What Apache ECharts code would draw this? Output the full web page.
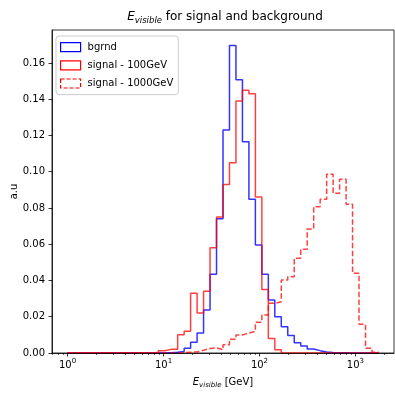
<!DOCTYPE html>
<html><head><meta charset="utf-8">
<script src="https://cdn.jsdelivr.net/npm/echarts@6/dist/echarts.min.js"></script>
<style>html,body{margin:0;padding:0;background:#fff}#c{width:395px;height:393px}</style>
</head><body><div id="c"></div>
<script>
// Logarithmic bin edges (GeV), 48 bins
const binEdges = [1.000,1.168,1.365,1.594,1.862,2.175,2.541,2.968,3.467,4.050,4.732,5.528,6.457,7.543,8.810,
  10.29,12.02,14.04,16.41,19.16,22.39,26.15,30.55,35.69,41.69,48.70,56.89,66.45,77.62,90.68,
  105.9,123.7,144.5,168.8,197.2,230.4,269.2,314.4,367.3,429.1,501.2,585.5,684.0,799.0,933.3,
  1090,1274,1488,1738];
const bgrnd = [0,0,0,0,0,0,0,0,0,0,0,0,0,0,0,
  0.0002,0.0004,0.0008,0.0026,0.0059,0.011,0.0237,0.0434,0.074,0.123,0.1696,0.1507,0.1166,0.0848,
  0.0596,0.0434,0.0292,0.020,0.0145,0.0096,0.0057,0.0039,0.0022,0.0013,0.0006,0.0003,0.0002,0.0001,
  0,0,0,0,0];
const signal100 = [0,0,0,0,0,0,0,0,0,0,0,0,0,0,
  0.0012,0.002,0.002,0.010,0.012,0.033,0.022,0.034,0.058,0.075,0.093,0.105,0.139,0.145,0.143,0.086,0.035,0.008,0.0018,
  0,0,0,0,0,0,0,0,0,0,0,0,0,0,0];
const signal1000 = [0,0,0,0,0,0,0,0,0,0,0,0,0,0,0,0,0,
  0.0002,0.0004,0.0006,0.0015,0.0025,0.0028,0.0018,0.0045,0.0076,0.0099,0.011,0.012,0.017,0.021,0.0274,0.0283,
  0.0403,0.0421,0.0523,0.0572,0.0684,0.0807,0.0848,0.0986,0.0881,0.0958,0.082,0.044,0.0158,0.0026,0.0004];
const seriesNames = ['bgrnd', 'signal - 100GeV', 'signal - 1000GeV'];
const xMajorTicks = [1, 10, 100, 1000];
const xMajorLabels = ['0', '1', '2', '3'];
const xMinorTicks = [0.7,0.8,0.9,2,3,4,5,6,7,8,9,20,30,40,50,60,70,80,90,200,300,400,500,600,700,800,900,2000];
const yTicks = [0,0.02,0.04,0.06,0.08,0.10,0.12,0.14,0.16];

function stepPoints(edges, vals) {
  const pts = [[edges[0], 0]];
  for (let i = 0; i < vals.length; i++) pts.push([edges[i], vals[i]]);
  pts.push([edges[vals.length], 0]);
  return pts;
}

const FONT = 'DejaVu Sans';
const chart = echarts.init(document.getElementById('c'), null, {renderer: 'canvas'});
const xBase = {
  type: 'log', logBase: 10, min: 0.6887, max: 2523,
  splitLine: {show: false}, minorTick: {show: false}
};
chart.setOption({
  animation: false,
  backgroundColor: '#fff',
  textStyle: {fontFamily: FONT},
  title: {
    text: '{e|E}{s|visible}{t| for signal and background}',
    left: 225, top: 9, padding: 0, textAlign: 'center',
    textStyle: {
      fontWeight: 'normal',
      rich: {
        e: {fontFamily: FONT, fontSize: 12, fontStyle: 'italic', fontWeight: 'normal', color: '#000', lineHeight: 16},
        s: {fontFamily: FONT, fontSize: 8.5, fontStyle: 'italic', fontWeight: 'normal', color: '#000', verticalAlign: 'bottom', lineHeight: 9},
        t: {fontFamily: FONT, fontSize: 12, fontWeight: 'normal', color: '#000', lineHeight: 16}
      }
    }
  },
  legend: {
    orient: 'vertical', left: 56, top: 36,
    padding: [6, 5, 6, 4],
    itemWidth: 20, itemHeight: 9, itemGap: 8,
    backgroundColor: '#fff', borderColor: '#cccccc', borderWidth: 1, borderRadius: 3,
    textStyle: {fontFamily: FONT, fontSize: 10, color: '#000', lineHeight: 10, padding: [0, 0, 0, 2]},
    data: [
      {name: seriesNames[0], icon: 'rect', itemStyle: {color: 'rgba(0,0,0,0)', borderColor: '#0000ff', borderWidth: 1.2}},
      {name: seriesNames[1], icon: 'rect', itemStyle: {color: 'rgba(0,0,0,0)', borderColor: '#ff0000', borderWidth: 1.2}},
      {name: seriesNames[2], icon: 'rect', itemStyle: {color: 'rgba(0,0,0,0)', borderColor: '#ff0000', borderWidth: 1.2, borderType: [4, 2]}}
    ]
  },
  grid: {left: 52, right: 1, top: 30, bottom: 40, containLabel: false, outerBoundsMode: 'none',
    show: true, borderColor: '#000', borderWidth: 0.8, backgroundColor: 'rgba(0,0,0,0)'},
  xAxis: [
    Object.assign({}, xBase, {
      position: 'bottom', z: 10,
      axisLine: {show: true, lineStyle: {color: '#000', width: 0.8}},
      axisTick: {show: true, length: 3.5, lineStyle: {color: '#000', width: 0.8}, customValues: xMajorTicks},
      axisLabel: {
        customValues: xMajorTicks, margin: 5, color: '#000',
        formatter: function (v) {
          const i = xMajorTicks.indexOf(Math.round(v));
          return '{b|10}{p|' + (i >= 0 ? xMajorLabels[i] : '') + '}';
        },
        rich: {
          b: {fontFamily: FONT, fontSize: 10, color: '#000', lineHeight: 14},
          p: {fontFamily: FONT, fontSize: 7, color: '#000', verticalAlign: 'top', lineHeight: 8}
        }
      },
      name: '{e|E}{s|visible}{t| [GeV]}', nameLocation: 'middle', nameGap: 22, nameMoveOverlap: false,
      nameTextStyle: {
        rich: {
          e: {fontFamily: FONT, fontSize: 10, fontStyle: 'italic', color: '#000', lineHeight: 14},
          s: {fontFamily: FONT, fontSize: 7, fontStyle: 'italic', color: '#000', verticalAlign: 'bottom', lineHeight: 8},
          t: {fontFamily: FONT, fontSize: 10, color: '#000', lineHeight: 14}
        }
      }
    }),
    Object.assign({}, xBase, {
      position: 'bottom', z: 10,
      axisLine: {show: false},
      axisTick: {show: true, length: 2, lineStyle: {color: '#000', width: 0.6}, customValues: xMinorTicks},
      axisLabel: {show: false}
    })
  ],
  yAxis: {
    type: 'value', min: 0, max: 0.1782, z: 10,
    axisLine: {show: true, lineStyle: {color: '#000', width: 0.8}},
    axisTick: {show: true, length: 3.5, lineStyle: {color: '#000', width: 0.8}, customValues: yTicks},
    axisLabel: {customValues: yTicks, margin: 7, fontFamily: FONT, fontSize: 10, color: '#000',
      formatter: function (v) { return v.toFixed(2); }},
    splitLine: {show: false},
    name: 'a.u', nameLocation: 'middle', nameGap: 33, nameRotate: 90, nameMoveOverlap: false,
    nameTextStyle: {fontFamily: FONT, fontSize: 10, color: '#000'}
  },
  series: [
    {name: seriesNames[0], type: 'line', step: 'end', symbol: 'none', xAxisIndex: 0,
     data: stepPoints(binEdges, bgrnd), color: '#0000ff',
     lineStyle: {color: '#0000ff', width: 1.5, opacity: 0.8}},
    {name: seriesNames[1], type: 'line', step: 'end', symbol: 'none', xAxisIndex: 0,
     data: stepPoints(binEdges, signal100), color: '#ff0000',
     lineStyle: {color: '#ff0000', width: 1.5, opacity: 0.75}},
    {name: seriesNames[2], type: 'line', step: 'end', symbol: 'none', xAxisIndex: 0,
     data: stepPoints(binEdges, signal1000), color: '#ff0000',
     lineStyle: {color: '#ff0000', width: 1.5, opacity: 0.75, type: [5.5, 2.4]}}
  ]
});
</script></body></html>
